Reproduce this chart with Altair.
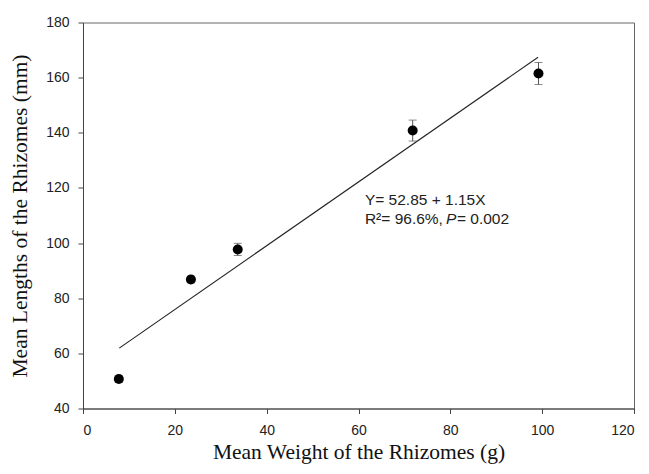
import altair as alt
import pandas as pd

# Data
weight = [7.8, 23.5, 33.7, 71.8, 99.2]
length = [50.7, 86.8, 97.7, 140.8, 161.5]
err = [1.2, 1.2, 2.2, 3.8, 4.0]

fit_x = [7.9, 99.1]
fit_y = [61.9, 167.4]

x_ticks = [0, 20, 40, 60, 80, 100, 120]
y_ticks = [40, 60, 80, 100, 120, 140, 160, 180]

pts = pd.DataFrame({
    "w": weight,
    "l": length,
    "lo": [a - b for a, b in zip(length, err)],
    "hi": [a + b for a, b in zip(length, err)],
})
fit = pd.DataFrame({"w": fit_x, "l": fit_y})
ann = pd.DataFrame({"w": [61.4], "l1": [115.6], "l2": [108.8]})

xs = alt.Scale(domain=[0, 120], nice=False, zero=False)
ys = alt.Scale(domain=[40, 180], nice=False, zero=False)

xax = alt.Axis(values=x_ticks, title="Mean Weight of the Rhizomes (g)", grid=False,
               tickSize=5, labelPadding=10, titlePadding=4)
yax = alt.Axis(values=y_ticks, title="Mean Lengths of the Rhizomes (mm)", grid=False,
               tickSize=5, labelPadding=9, titlePadding=14)

base_x = alt.X("w:Q", scale=xs, axis=xax)
base_y = alt.Y("l:Q", scale=ys, axis=yax)

line = alt.Chart(fit).mark_line(color="#222", strokeWidth=1.1).encode(x=base_x, y=base_y)

rules = alt.Chart(pts).mark_rule(color="#555", strokeWidth=1).encode(
    x=alt.X("w:Q", scale=xs), y=alt.Y("lo:Q", scale=ys), y2="hi:Q")
cap_hi = alt.Chart(pts).mark_tick(color="#555", orient="horizontal", size=8, thickness=1).encode(
    x=alt.X("w:Q", scale=xs), y=alt.Y("hi:Q", scale=ys))
cap_lo = alt.Chart(pts).mark_tick(color="#555", orient="horizontal", size=8, thickness=1).encode(
    x=alt.X("w:Q", scale=xs), y=alt.Y("lo:Q", scale=ys))

dots = alt.Chart(pts).mark_point(filled=True, color="black", opacity=1, size=100).encode(
    x=alt.X("w:Q", scale=xs), y=alt.Y("l:Q", scale=ys))

font = "Liberation Sans"
t1 = alt.Chart(ann).mark_text(align="left", baseline="middle", font=font, fontSize=15.5,
                              color="#222", text="Y= 52.85 + 1.15X").encode(
    x=alt.X("w:Q", scale=xs), y=alt.Y("l1:Q", scale=ys))
t2 = alt.Chart(ann).mark_text(align="left", baseline="middle", font=font, fontSize=15.5,
                              color="#222", text="R²= 96.6%, ").encode(
    x=alt.X("w:Q", scale=xs), y=alt.Y("l2:Q", scale=ys))
t3 = alt.Chart(ann).mark_text(align="left", baseline="middle", font=font, fontSize=15.5,
                              fontStyle="italic", color="#222", text="P", dx=81).encode(
    x=alt.X("w:Q", scale=xs), y=alt.Y("l2:Q", scale=ys))
t4 = alt.Chart(ann).mark_text(align="left", baseline="middle", font=font, fontSize=15.5,
                              color="#222", text="= 0.002", dx=92).encode(
    x=alt.X("w:Q", scale=xs), y=alt.Y("l2:Q", scale=ys))

chart = alt.layer(line, rules, cap_hi, cap_lo, dots, t1, t2, t3, t4).properties(
    width=551, height=386,
    autosize=alt.AutoSizeParams(type="none"),
    padding={"left": 75, "top": 14.5, "right": 7, "bottom": 57},
).configure_view(stroke="#666", strokeWidth=1).configure_axis(
    domainColor="#444", tickColor="#444", labelColor="#222", titleColor="#111",
    labelFont=font, labelFontSize=14, titleFont="Liberation Serif", titleFontSize=21.5,
    titleFontWeight="normal",
)

chart.save("out.html", embed_options={"renderer": "svg", "actions": False})
